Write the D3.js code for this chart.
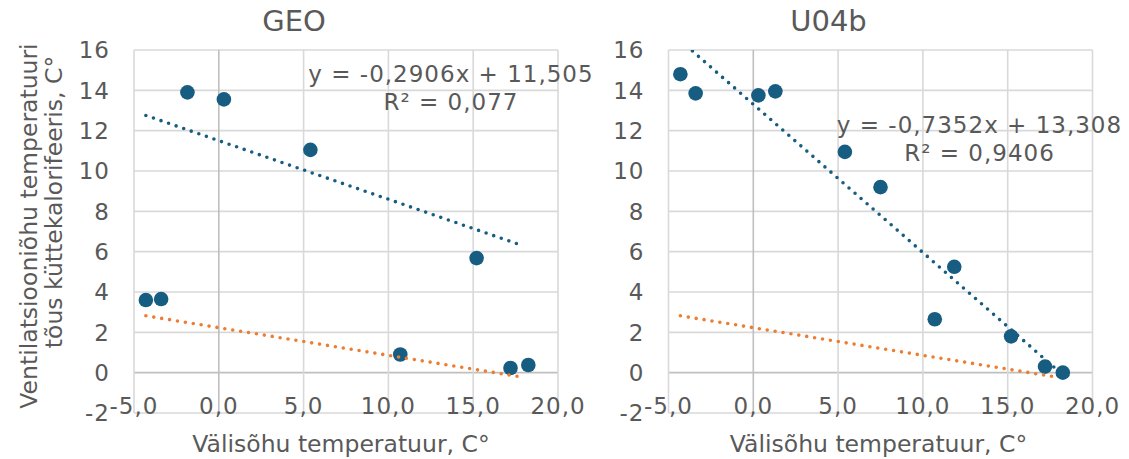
<!DOCTYPE html>
<html>
<head>
<meta charset="utf-8">
<script src="https://cdn.jsdelivr.net/npm/d3@7"></script>
<style>
  html, body { margin: 0; padding: 0; background: #fff; }
  svg { display: block; }
  .tick-label { font-family: "DejaVu Sans", Verdana, sans-serif; font-size: 23px; letter-spacing: 1px; fill: #595959; }
  .title { font-family: "DejaVu Sans", Verdana, sans-serif; font-size: 29px; fill: #595959; }
  .axis-title { font-family: "DejaVu Sans", Verdana, sans-serif; font-size: 23.5px; fill: #595959; }
  .eq { font-family: "DejaVu Sans", Verdana, sans-serif; font-size: 23px; letter-spacing: 1px; fill: #595959; }
</style>
</head>
<body>
<svg id="chart" width="1129" height="459"></svg>
<script>
// Outdoor temperature (°C) and temperature rise across the air heater (°C)
const geoX = [-4.3, -3.4, -1.85, 0.3, 5.4, 10.7, 15.2, 17.2, 18.25];
const geoY = [3.6, 3.65, 13.9, 13.55, 11.05, 0.9, 5.68, 0.23, 0.38];

const u04bX = [-4.3, -3.4, 0.3, 1.3, 5.4, 7.5, 10.7, 11.85, 15.2, 17.2, 18.25];
const u04bY = [14.8, 13.85, 13.75, 13.95, 10.95, 9.2, 2.65, 5.25, 1.8, 0.3, 0.0];

// Linear trendlines (slope, intercept, R²)
const panelNames = ["GEO", "U04b"];
const trendSlope = [-0.2906, -0.7352];
const trendIntercept = [11.505, 13.308];
const trendR2 = [0.077, 0.9406];
const trendXRange = [-4.3, 17.85];

// Reference trendline shown in both panels
const refSlope = -0.137;
const refIntercept = 2.23;

// Axis ticks
const xTicks = [-5, 0, 5, 10, 15, 20];
const yTicks = [-2, 0, 2, 4, 6, 8, 10, 12, 14, 16];

const xTitle = "Välisõhu temperatuur, C°";
const yTitleLines = ["Ventilatsiooniõhu temperatuuri", "tõus küttekalorifeeris, C°"];

const blue = "#175d81";
const orange = "#ed7d31";

const locale = d3.formatLocale({ decimal: ",", thousands: " ", grouping: [3], currency: ["", ""], minus: "-" });
const fmtX = locale.format(".1f");
const fmtY = locale.format("d");
const commaNum = v => String(v).replace(".", ",");

const svg = d3.select("#chart");

const plotW = 424, plotH = 363;
const panels = [
  { name: panelNames[0], xs: geoX, ys: geoY, left: 134, top: 50, slope: trendSlope[0], intercept: trendIntercept[0], r2: trendR2[0],
    eq: { cx: 451, y1: 81.5, y2: 110 } },
  { name: panelNames[1], xs: u04bX, ys: u04bY, left: 668.5, top: 50, slope: trendSlope[1], intercept: trendIntercept[1], r2: trendR2[1],
    eq: { cx: 979.5, y1: 132.5, y2: 161 } }
];

const x = d3.scaleLinear().domain([-5, 20]).range([0, plotW]);
const y = d3.scaleLinear().domain([-2, 16]).range([plotH, 0]);

panels.forEach((p, i) => {
  const g = svg.append("g").attr("transform", `translate(${p.left},${p.top})`);

  // gridlines
  g.append("g").selectAll("line").data(yTicks).join("line")
    .attr("x1", 0).attr("x2", plotW)
    .attr("y1", d => y(d)).attr("y2", d => y(d))
    .attr("stroke", d => d === 0 ? "#bfbfbf" : "#d9d9d9").attr("stroke-width", 1.6);
  g.append("g").selectAll("line").data(xTicks).join("line")
    .attr("y1", 0).attr("y2", plotH)
    .attr("x1", d => x(d)).attr("x2", d => x(d))
    .attr("stroke", d => d === 0 ? "#bfbfbf" : "#d9d9d9").attr("stroke-width", 1.6);

  // y tick labels
  g.append("g").selectAll("text").data(yTicks).join("text")
    .attr("class", "tick-label")
    .attr("x", -24).attr("y", d => y(d)).attr("dy", "0.36em")
    .attr("text-anchor", "end")
    .text(d => fmtY(d));

  // x tick labels along the bottom
  g.append("g").selectAll("text").data(xTicks).join("text")
    .attr("class", "tick-label")
    .attr("x", d => x(d)).attr("y", plotH + 1)
    .attr("text-anchor", "middle")
    .text(d => fmtX(d));

  // markers
  g.append("g").selectAll("circle").data(p.xs.map((v, k) => [v, p.ys[k]])).join("circle")
    .attr("cx", d => x(d[0])).attr("cy", d => y(d[1])).attr("r", 7.3)
    .attr("fill", blue);

  // trendlines, clipped to the plot area
  const clipId = "clip" + i;
  g.append("clipPath").attr("id", clipId).append("rect")
    .attr("x", 0).attr("y", 0).attr("width", plotW).attr("height", plotH);
  const line = d3.line().x(d => x(d[0])).y(d => y(d[1]));
  const trend = (m, b) => trendXRange.map(v => [v, m * v + b]);

  g.append("path").attr("clip-path", `url(#${clipId})`)
    .attr("d", line(trend(refSlope, refIntercept)))
    .attr("fill", "none").attr("stroke", orange).attr("stroke-width", 3.6)
    .attr("stroke-linecap", "round").attr("stroke-dasharray", "0 8");
  g.append("path").attr("clip-path", `url(#${clipId})`)
    .attr("d", line(trend(p.slope, p.intercept)))
    .attr("fill", "none").attr("stroke", blue).attr("stroke-width", 3.6)
    .attr("stroke-linecap", "round").attr("stroke-dasharray", "0 8");

  // chart title
  svg.append("text").attr("class", "title")
    .attr("x", p.left + 160).attr("y", 31).attr("text-anchor", "middle")
    .text(p.name);

  // trendline equation
  svg.append("text").attr("class", "eq")
    .attr("x", p.eq.cx).attr("y", p.eq.y1).attr("text-anchor", "middle")
    .text(`y = ${commaNum(p.slope)}x + ${commaNum(p.intercept)}`);
  svg.append("text").attr("class", "eq")
    .attr("x", p.eq.cx).attr("y", p.eq.y2).attr("text-anchor", "middle")
    .text(`R² = ${commaNum(p.r2)}`);

  // x axis title
  svg.append("text").attr("class", "axis-title")
    .attr("x", p.left + (i === 0 ? 207 : 210)).attr("y", 452).attr("text-anchor", "middle")
    .text(xTitle);
});

// y axis title (left panel)
const yt = svg.append("g");
yt.append("text").attr("class", "axis-title")
  .attr("transform", "translate(37,226) rotate(-90)").attr("text-anchor", "middle")
  .text(yTitleLines[0]);
yt.append("text").attr("class", "axis-title")
  .attr("transform", "translate(62,202) rotate(-90)").attr("text-anchor", "middle")
  .text(yTitleLines[1]);
</script>
</body>
</html>
